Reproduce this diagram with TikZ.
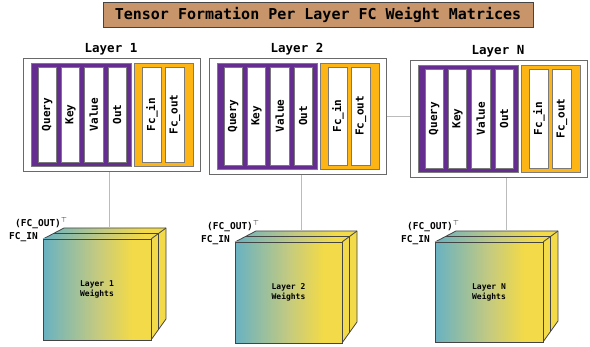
\documentclass[tikz,border=0pt]{standalone}
\usepackage{fontspec}
\setmonofont{DejaVu Sans Mono}
\usetikzlibrary{calc}
\definecolor{purp}{HTML}{662D91}
\definecolor{orng}{HTML}{FDB515}
\definecolor{titletan}{HTML}{C8956A}
\definecolor{edgegray}{HTML}{444444}
\definecolor{stripgray}{HTML}{7A7A7A}
\definecolor{conngray}{HTML}{BBBBBB}
\definecolor{cteal}{RGB}{104,178,194}
\definecolor{cmid}{RGB}{196,202,128}
\definecolor{cyel}{RGB}{242,218,72}
\pgfdeclarehorizontalshading{cubegrad}{100bp}{color(0bp)=(cteal); color(25bp)=(cteal); color(50bp)=(cmid); color(66bp)=(cyel); color(100bp)=(cyel)}
\tikzset{
  titlebox/.style={draw=edgegray, line width=0.9pt, fill=titletan, minimum width=430pt, minimum height=25pt, inner sep=0pt, font=\ttfamily\bfseries\fontsize{15}{15}\selectfont},
  panelbox/.style={draw=edgegray!80, line width=0.8pt, fill=white, inner sep=0pt},
  layerlabel/.style={font=\ttfamily\bfseries\fontsize{12.5}{12.5}\selectfont, inner sep=0pt},
  purpbox/.style={draw=edgegray!70, line width=0.6pt, fill=purp, inner sep=0pt, minimum width=100pt},
  orngbox/.style={draw=edgegray!70, line width=0.6pt, fill=orng, inner sep=0pt, minimum width=59pt},
  stripbox/.style={draw=stripgray, line width=0.7pt, fill=white, inner sep=0pt, rotate=90, minimum height=18.5pt, font=\ttfamily\bfseries\fontsize{11}{11}\selectfont},
  edge/.style={draw=edgegray, line width=0.8pt, line join=round},
  frontface/.style={draw=edgegray, line width=0.8pt, shading=cubegrad, inner sep=0pt, align=center, font=\ttfamily\bfseries\fontsize{8}{10}\selectfont},
  dimlabel/.style={font=\ttfamily\bfseries\fontsize{9.5}{9.5}\selectfont, inner sep=0pt, anchor=west},
  conn/.style={draw=conngray, line width=0.7pt}
}
% #1 X, #2 Y, #3 H, #4 name, #5 label
\newcommand{\layerpanel}[5]{%
  \node[panelbox, anchor=north west, minimum width=177pt, minimum height={#3*1pt}] (#4) at (#1,#2) {};
  \node[layerlabel] (#4-lab) at ({#1+88},{#2-9}) {#5};
  \node[purpbox, anchor=north west, minimum height={(#3-10)*1pt}] (#4-pb) at ({#1+8},{#2+5}) {};
  \node[orngbox, anchor=north west, minimum height={(#3-10)*1pt}] (#4-ob) at ({#1+111},{#2+5}) {};
  \node[stripbox, minimum width={(#3-18)*1pt}] (#4-q) at ({#1+24.25},{#2+#3/2}) {Query};
  \node[stripbox, minimum width={(#3-18)*1pt}] (#4-k) at ({#1+47.55},{#2+#3/2}) {Key};
  \node[stripbox, minimum width={(#3-18)*1pt}] (#4-v) at ({#1+70.85},{#2+#3/2}) {Value};
  \node[stripbox, minimum width={(#3-18)*1pt}] (#4-o) at ({#1+94.15},{#2+#3/2}) {Out};
  \node[stripbox, minimum width={(#3-18)*1pt}] (#4-fi) at ({#1+129},{#2+#3/2}) {Fc\_in};
  \node[stripbox, minimum width={(#3-18)*1pt}] (#4-fo) at ({#1+152},{#2+#3/2}) {Fc\_out};
}
% #1 x0, #2 y0, #3 w, #4 h, #5 name, #6 label
\newcommand{\wcube}[6]{%
  \coordinate (#5-f1) at (#1,#2);
  \coordinate (#5-f2) at ({#1+#3},#2);
  \coordinate (#5-f3) at ({#1+#3},{#2+#4});
  \coordinate (#5-b1) at ({#1+21},{#2-11});
  \coordinate (#5-b2) at ({#1+#3+15},{#2-11});
  \coordinate (#5-b3) at ({#1+#3+15},{#2+#4-21});
  \coordinate (#5-m1) at ({#1+10},{#2-5.5});
  \coordinate (#5-m2) at ({#1+#3+7.5},{#2-5.5});
  \coordinate (#5-m3) at ({#1+#3+7.5},{#2+#4-10.5});
  \fill[cyel] (#5-f2) -- (#5-b2) -- (#5-b3) -- (#5-f3) -- cycle;
  \shade[shading=cubegrad] (#5-f1) -- (#5-b1) -- (#5-b2) -- (#5-f2) -- cycle;
  \draw[edge] (#5-f1) -- (#5-b1) -- (#5-b2) -- (#5-b3) -- (#5-f3);
  \draw[edge] (#5-f2) -- (#5-b2);
  \draw[edge] (#5-m1) -- (#5-m2) -- (#5-m3);
  \node[frontface, minimum width={#3*1pt}, minimum height={#4*1pt}] (#5) at ({#1+#3/2},{#2+#4/2}) {#6};
  \node[dimlabel] (#5-out) at ({#1-28},{#2-16}) {(FC\_OUT)$^{\top}$};
  \node[dimlabel] (#5-in) at ({#1-34},{#2-2}) {FC\_IN};
}
\begin{document}
\begin{tikzpicture}[x=1pt,y=-1pt]
\useasboundingbox (0,0) rectangle (590,347);
\node[titlebox] (title) at (318,14.5) {Tensor Formation Per Layer FC Weight Matrices};

\layerpanel{23}{58}{113}{p1}{Layer 1}
\layerpanel{209}{58}{116}{p2}{Layer 2}
\layerpanel{410}{60}{117}{p3}{Layer N}

\wcube{43}{239}{108}{101}{c1}{Layer 1\\Weights}
\wcube{235}{242}{107}{101}{c2}{Layer 2\\Weights}
\wcube{435}{242}{108}{100}{c3}{Layer N\\Weights}

\draw[conn] ([xshift=-2.5pt]p1.south) -- ([xshift=-2.5pt]p1.south |- c1-b1);
\draw[conn] ([xshift=3pt]p2.south) -- ([xshift=3pt]p2.south |- c2-b1);
\draw[conn] ([xshift=7.5pt]p3.south) -- ([xshift=7.5pt]p3.south |- c3-b1);
\draw[conn] (p2.east) -- (p2.east -| p3.west);
\end{tikzpicture}
\end{document}
